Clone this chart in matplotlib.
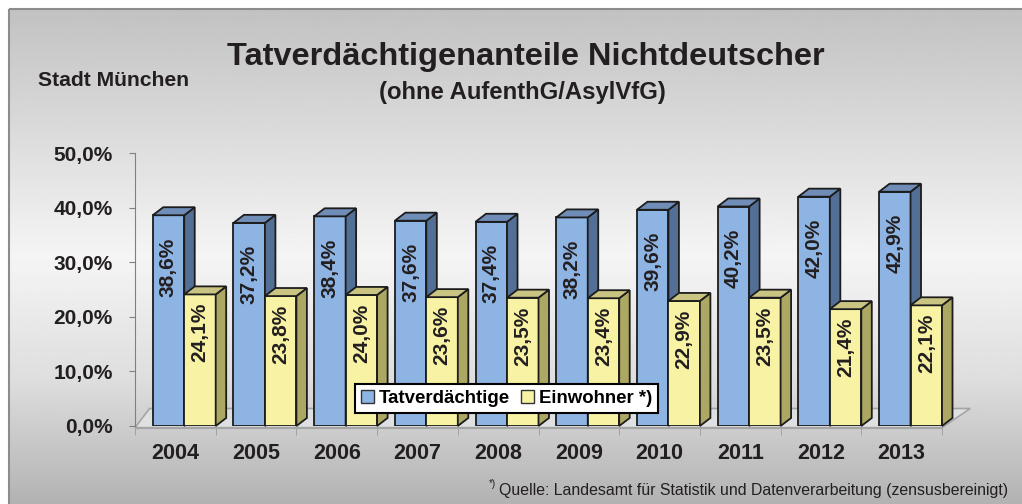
import numpy as np
import matplotlib
matplotlib.use("Agg")
import matplotlib.pyplot as plt
from matplotlib.patches import Polygon, Rectangle, Patch

plt.rcParams['font.family'] = ['Liberation Sans', 'DejaVu Sans']

# Daten
jahre = ['2004', '2005', '2006', '2007', '2008', '2009', '2010', '2011', '2012', '2013']
tatverdaechtige = [38.6, 37.2, 38.4, 37.6, 37.4, 38.2, 39.6, 40.2, 42.0, 42.9]
einwohner = [24.1, 23.8, 24.0, 23.6, 23.5, 23.4, 22.9, 23.5, 21.4, 22.1]
y_ticks = [0, 10, 20, 30, 40, 50]

W, H = 1022, 504
fig = plt.figure(figsize=(W / 100, H / 100), dpi=100)
fig.patch.set_facecolor('white')

# Hintergrund mit Verlauf
bg = fig.add_axes([9 / W, 0, 1 - 9 / W, 1 - 9 / H])
bg.set_axis_off()
stops_y = [0.0, 0.2, 0.5, 0.75, 1.0]
stops_c = [0.76, 0.84, 0.96, 0.87, 0.70]
yy = np.linspace(0, 1, 300)
grad = np.interp(yy, stops_y, stops_c)
bg.imshow(np.repeat(grad[:, None], 2, axis=1), cmap='gray', vmin=0, vmax=1,
          aspect='auto', extent=[0, 1, 1, 0])
bg.set_xlim(0, 1)
bg.set_ylim(1, 0)
bg.add_patch(Rectangle((0, 0), 1.2, 1.2, fill=False, edgecolor='#8c8c8c', lw=1.5, clip_on=False))

txt = '#231f20'
fig.text(526 / W, 1 - 57 / H, 'Tatverdächtigenanteile Nichtdeutscher', ha='center', va='center',
         fontsize=23.4, fontweight='bold', color=txt)
fig.text(522 / W, 1 - 92 / H, '(ohne AufenthG/AsylVfG)', ha='center', va='center',
         fontsize=17.2, fontweight='bold', color=txt)
fig.text(38 / W, 1 - 81 / H, 'Stadt München', ha='left', va='center',
         fontsize=15.2, fontweight='bold', color=txt)

# Diagramm
ax = fig.add_axes([135 / W, (H - 426) / H, 807 / W, 273 / H])
ax.set_facecolor('none')
ax.set_xlim(-0.5, 9.5)
ax.set_ylim(0, 50)

dx, dy = 0.13, 1.47
bw = 0.39
x_blue = -0.28

# Boden
floor = Polygon([(-0.5, -0.3), (9.5, -0.3), (9.85, 3.2), (-0.32, 3.2)], closed=True,
                facecolor='#dfe0e2', edgecolor='#a5a5a5', lw=1.2, clip_on=False, zorder=1)
ax.add_patch(floor)

def bar3d(x0, h, front, side, top, z):
    ax.bar(x0, h, width=bw, align='edge', color=front, edgecolor='#1c1c1c', lw=1.3, zorder=z)
    ax.add_patch(Polygon([(x0 + bw, 0), (x0 + bw + dx, dy), (x0 + bw + dx, h + dy), (x0 + bw, h)],
                         closed=True, facecolor=side, edgecolor='#1c1c1c', lw=1.3, zorder=z, clip_on=False))
    ax.add_patch(Polygon([(x0, h), (x0 + dx, h + dy), (x0 + bw + dx, h + dy), (x0 + bw, h)],
                         closed=True, facecolor=top, edgecolor='#1c1c1c', lw=1.3, zorder=z, clip_on=False))

lbl = dict(rotation=90, ha='center', va='center', fontsize=15, fontweight='bold', color=txt)
for i, (t, e) in enumerate(zip(tatverdaechtige, einwohner)):
    xb = i + x_blue
    bar3d(xb, t, '#8eb4e3', '#536f95', '#6f8db6', 2 + 2 * i)
    bar3d(xb + bw, e, '#f8f3a4', '#aca762', '#cac483', 3 + 2 * i)
    ax.text(xb + bw / 2, t - 9.5, f'{t:.1f}%'.replace('.', ','), zorder=30, **lbl)
    ax.text(xb + 1.5 * bw, e - 7, f'{e:.1f}%'.replace('.', ','), zorder=30, **lbl)

for s in ['top', 'right']:
    ax.spines[s].set_visible(False)
ax.spines['left'].set_color('#808080')
ax.spines['bottom'].set_color('#a5a5a5')
ax.spines['bottom'].set_position(('data', -0.3))

ax.set_yticks(y_ticks)
ax.set_yticklabels([f'{v},0%' for v in y_ticks], fontsize=15, fontweight='bold', color=txt)
ax.tick_params(axis='y', length=4, color='#808080', pad=12)
ax.set_xticks(range(len(jahre)))
ax.set_xticklabels(jahre, fontsize=15.5, fontweight='bold', color=txt)
ax.set_xticks(np.arange(-0.5, 10, 1), minor=True)
ax.tick_params(axis='x', which='major', length=0, pad=11)
ax.tick_params(axis='x', which='minor', length=5, color='#9a9a9a')

handles = [Patch(facecolor='#8eb4e3', edgecolor='#333333', label='Tatverdächtige'),
           Patch(facecolor='#f8f3a4', edgecolor='#333333', label='Einwohner *)')]
leg = fig.legend(handles=handles, loc='center', bbox_to_anchor=(506.5 / W, 1 - 398.5 / H), ncol=2,
                 frameon=True, fancybox=False, edgecolor='black', framealpha=1,
                 prop={'weight': 'bold', 'size': 13.4}, handlelength=0.7, handleheight=0.7,
                 handletextpad=0.25, columnspacing=0.6, borderpad=0.3)
leg.get_frame().set_linewidth(1.5)
leg.set_zorder(50)

# Fussnote
fn = fig.text(1008 / W, 1 - 491 / H, 'Quelle: Landesamt für Statistik und Datenverarbeitung (zensusbereinigt)',
              ha='right', va='center', fontsize=11.4, color=txt)
r = fig.canvas.get_renderer()
bb = fn.get_window_extent(r)
fig.text((bb.x0 - 3) / W, 1 - 484 / H, '*)', ha='right', va='center', fontsize=7, color=txt)

fig.savefig('out.png', dpi=100)
